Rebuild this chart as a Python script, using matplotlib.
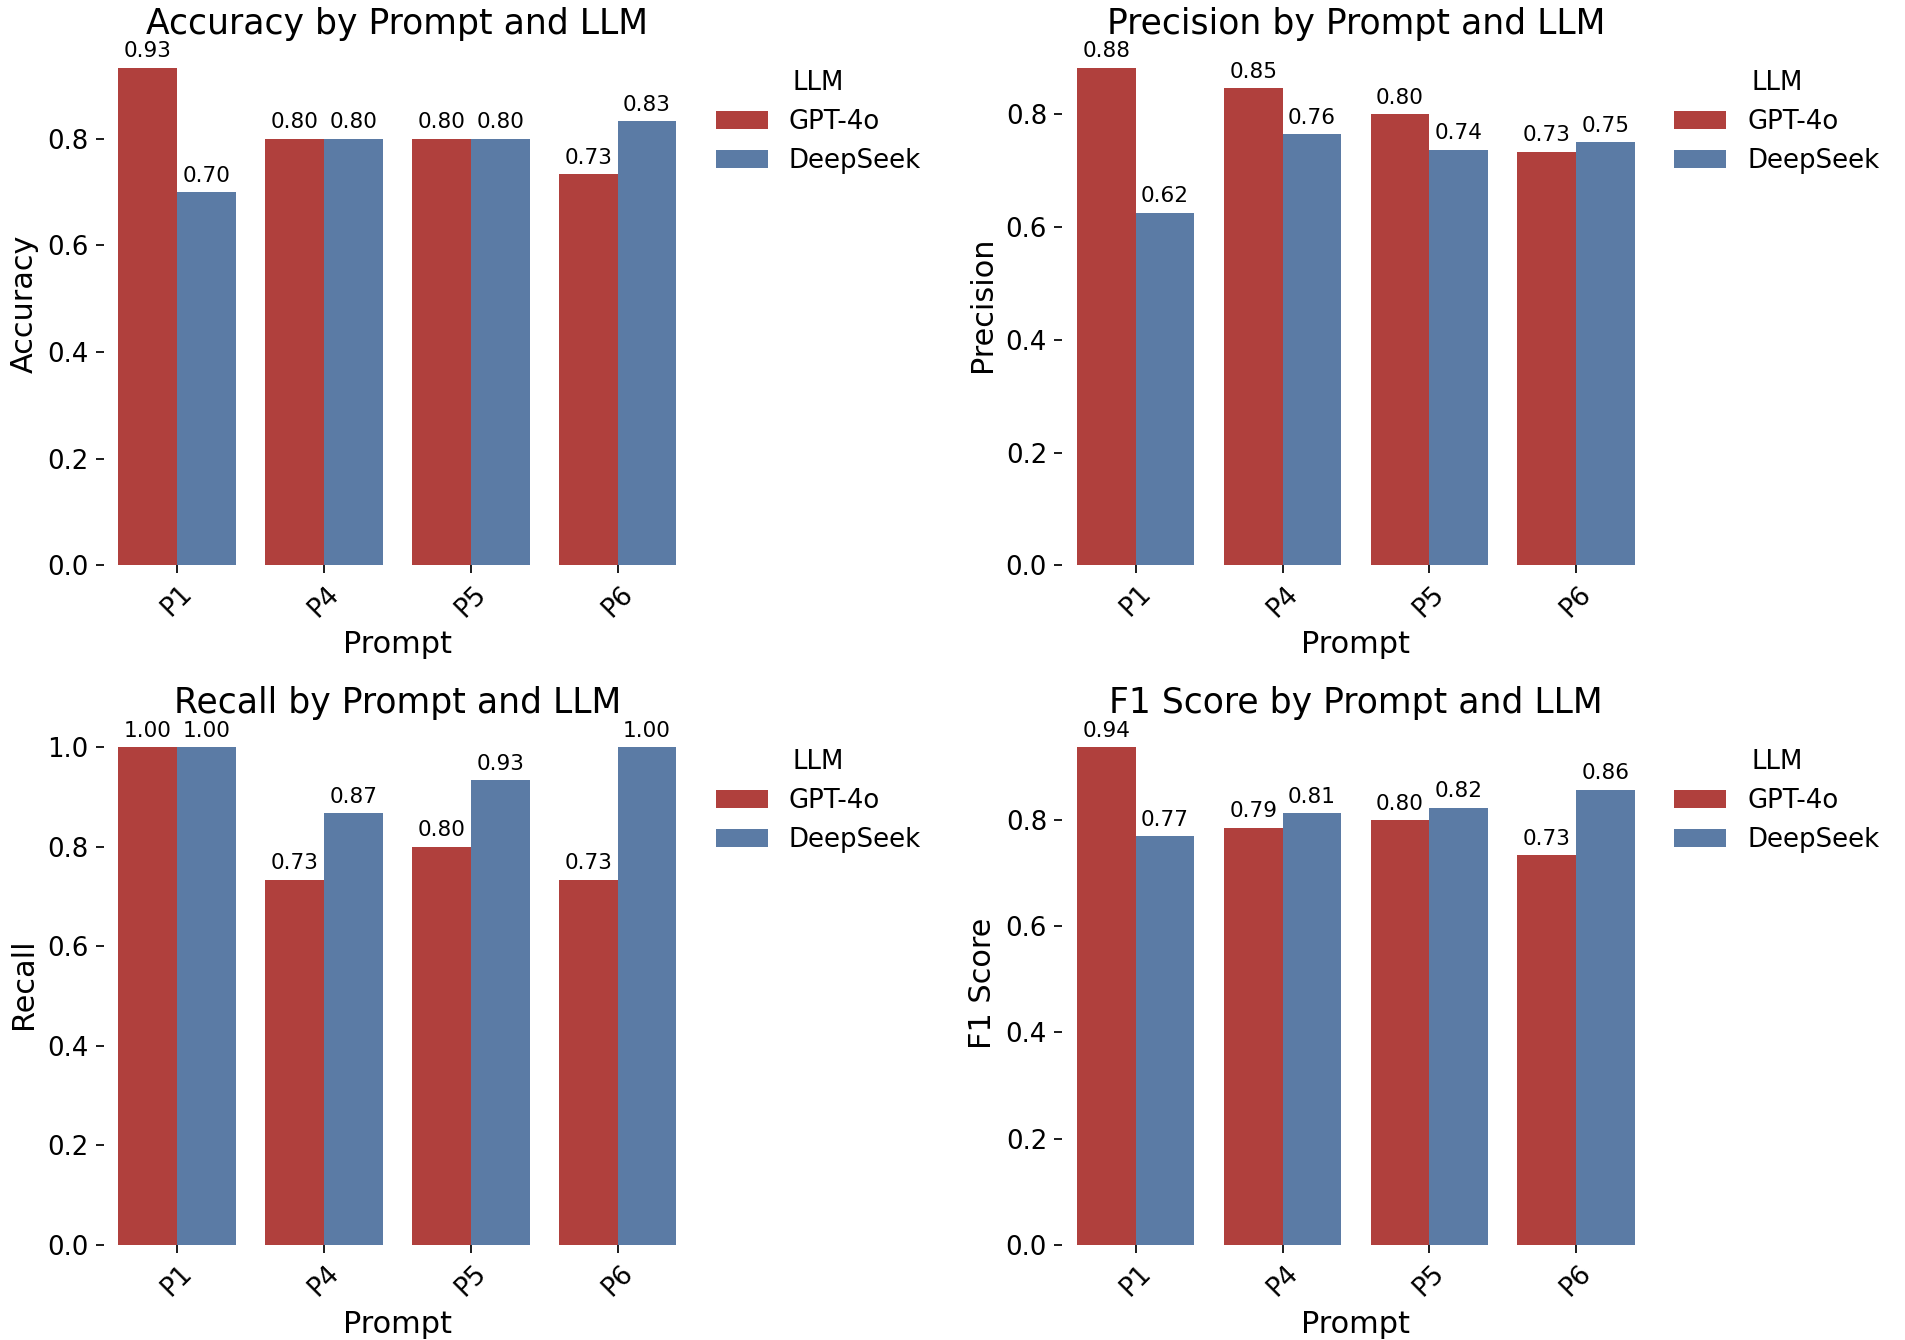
import matplotlib

matplotlib.use("Agg")

import matplotlib.pyplot as plt
import numpy as np

PROMPTS = ["P1", "P4", "P5", "P6"]
LLMS = ["GPT-4o", "DeepSeek"]

accuracy_gpt = [0.9333, 0.8000, 0.8000, 0.7333]
accuracy_ds = [0.7000, 0.8000, 0.8000, 0.8333]
precision_gpt = [0.8824, 0.8462, 0.8000, 0.7333]
precision_ds = [0.6250, 0.7647, 0.7368, 0.7500]
recall_gpt = [1.0000, 0.7333, 0.8000, 0.7333]
recall_ds = [1.0000, 0.8667, 0.9333, 1.0000]
f1_gpt = [0.9375, 0.7857, 0.8000, 0.7333]
f1_ds = [0.7692, 0.8125, 0.8235, 0.8571]

COLORS = {"GPT-4o": "#b0403d", "DeepSeek": "#5b7ba5"}

PANELS = [
    ("Accuracy", accuracy_gpt, accuracy_ds),
    ("Precision", precision_gpt, precision_ds),
    ("Recall", recall_gpt, recall_ds),
    ("F1 Score", f1_gpt, f1_ds),
]

DPI = 156


def _draw_panel(ax, metric, gpt_vals, ds_vals):
    x = np.arange(len(PROMPTS))
    width = 0.4
    for offset, name, vals in ((-width / 2, "GPT-4o", gpt_vals), (width / 2, "DeepSeek", ds_vals)):
        bars = ax.bar(x + offset, vals, width, color=COLORS[name], label=name)
        ax.bar_label(bars, fmt="%.2f", padding=3, fontsize=10)
    ax.set_xticks(x)
    ax.set_xticklabels(PROMPTS, rotation=45)
    ax.set_xlim(-0.5, len(PROMPTS) - 0.5)
    ax.tick_params(axis="both", labelsize=12)
    ax.set_title(f"{metric} by Prompt and LLM", fontsize=16, pad=4.3)
    ax.set_xlabel("Prompt", fontsize=14)
    ax.set_ylabel(metric, fontsize=14)
    for side in ("top", "right", "left", "bottom"):
        ax.spines[side].set_visible(False)
    ax.legend(title="LLM", loc="upper left", bbox_to_anchor=(1.002, 0.993), frameon=False,
              fontsize=12, title_fontsize=12)


fig, axes = plt.subplots(2, 2, figsize=(1906 / DPI, 1340 / DPI), dpi=DPI)
fig.subplots_adjust(left=0.0544, right=0.8655, bottom=0.0711, top=0.968, wspace=0.632, hspace=0.300)

for ax, (metric, gpt_vals, ds_vals) in zip(axes.ravel(), PANELS):
    _draw_panel(ax, metric, gpt_vals, ds_vals)

fig.savefig("out.png", dpi=DPI)
plt.close(fig)
